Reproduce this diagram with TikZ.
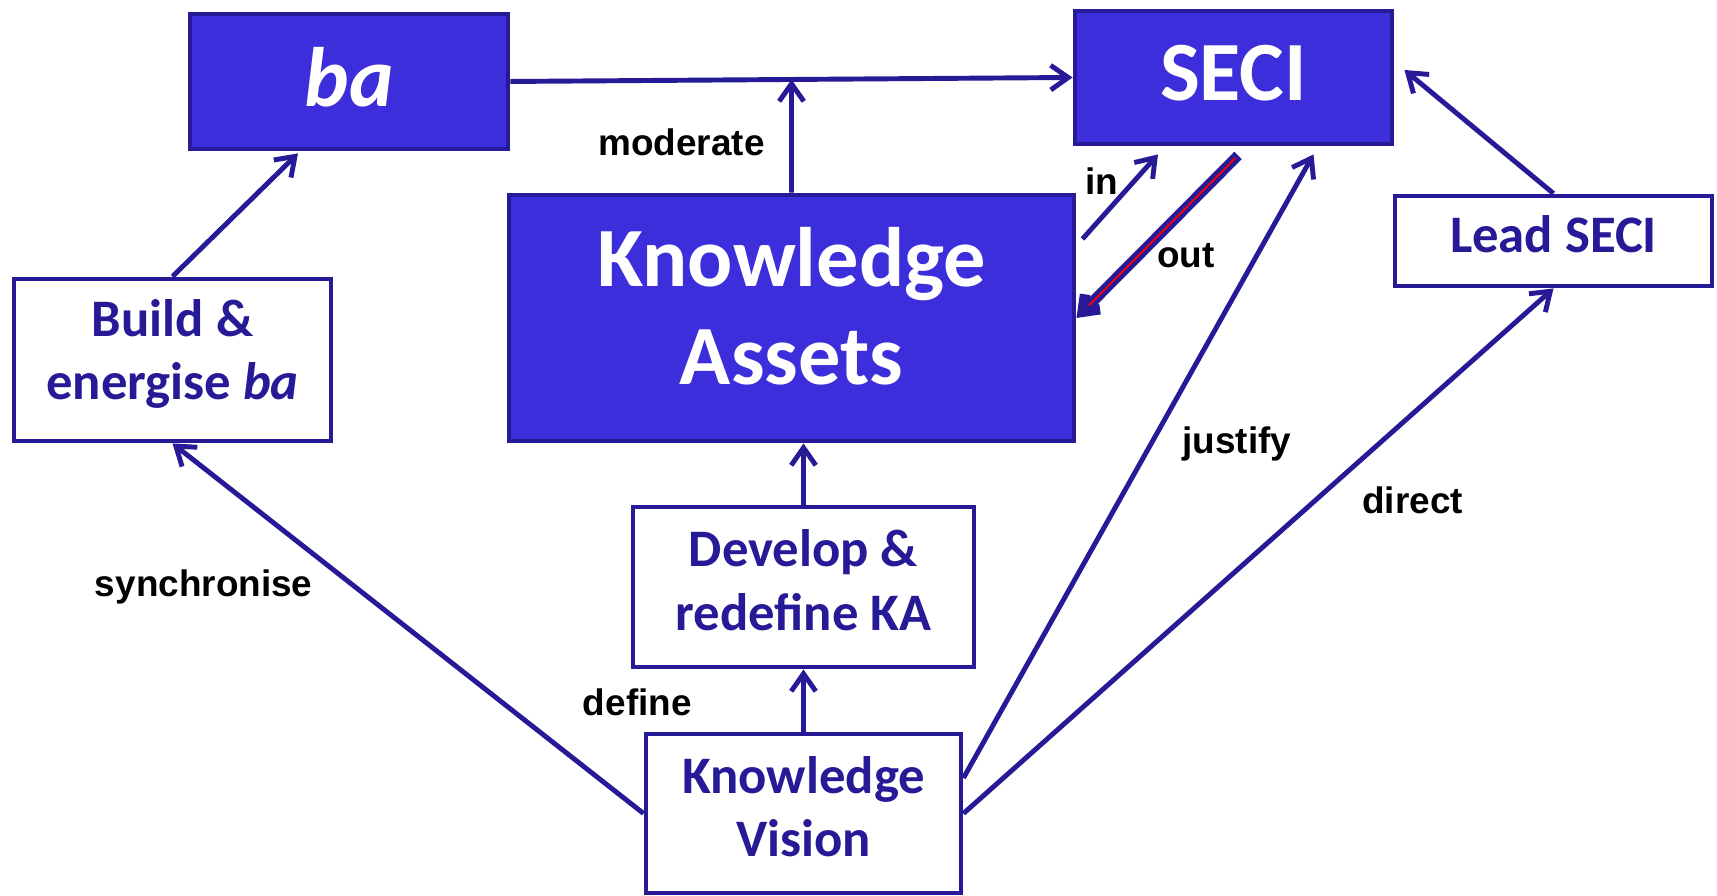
\documentclass[tikz,border=0pt]{standalone}
\usepackage{fontspec}
\setmainfont{Carlito}
\newfontfamily\labelfont{Liberation Sans}
\usepackage{xcolor}
\usetikzlibrary{arrows.meta, calc}
\definecolor{kablue}{RGB}{60,46,218}
\definecolor{kadark}{RGB}{38,26,150}
\tikzstyle{filledbox} = [rectangle, draw=kadark, fill=kablue, line width=1.4pt, text=white, font=\fontsize{24}{28}\selectfont\bfseries, align=center, inner sep=0pt, text depth=2.5pt]
\tikzstyle{plainbox} = [rectangle, draw=kadark, fill=white, line width=1.4pt, text=kadark, font=\fontsize{15}{18}\selectfont\bfseries, align=center, inner sep=0pt, text depth=4pt]
\tikzstyle{lbl} = [font=\labelfont\fontsize{10.5}{12}\selectfont\bfseries, text=black, inner sep=0pt, text depth=0pt]
\tikzstyle{arrow} = [line width=1.4pt, draw=kadark, -{Straight Barb[length=5pt,width=7pt]}]
\tikzstyle{outarrow} = [line width=3pt, draw=kadark, -{Straight Barb[length=4pt,width=6pt]}]

\begin{document}
\begin{tikzpicture}
		\useasboundingbox (0,0) rectangle (17.17,8.96);
		%top row
		\node[filledbox, minimum width=3.18cm, minimum height=1.35cm] (ba) at (3.49,8.145) {\textit{ba}};
		\node[filledbox, minimum width=3.17cm, minimum height=1.33cm] (seci) at (12.335,8.185) {SECI};
		
		%centre
		\node[filledbox, minimum width=5.65cm, minimum height=2.46cm, text depth=7pt] (ka) at (7.915,5.78) {Knowledge\\Assets};
		
		%white boxes
		\node[plainbox, minimum width=3.17cm, minimum height=1.62cm, text depth=6pt] (build) at (1.725,5.36) {Build \&\\energise \textit{ba}};
		\node[plainbox, minimum width=3.17cm, minimum height=0.90cm] (lead) at (15.535,6.55) {Lead SECI};
		\node[plainbox, minimum width=3.41cm, minimum height=1.60cm] (develop) at (8.035,3.09) {Develop \&\\redefine KA};
		\node[plainbox, minimum width=3.15cm, minimum height=1.59cm] (vision) at (8.035,0.825) {Knowledge\\Vision};

		%free ends
		\coordinate (mod_e) at ($(ba.east)!0.5!(seci.west)$);
		\coordinate (in_s) at ($(ka.east)+(0.06,0.79)$);
		\coordinate (in_e) at ($(seci.south)+(-0.755,-0.08)$);
		\coordinate (out_s) at ($(seci.south)+(0.045,-0.09)$);
		\coordinate (just_e) at ($(seci.south)+(0.8,-0.08)$);
		\coordinate (lead_e) at ($(seci.east)+(0.1,0.075)$);
		\coordinate (ba_e) at ($(ba.south)+(-0.51,-0.02)$);
		
		%connections
		\draw[arrow] (ba.east) -- (seci.west);
		\draw[arrow] (ka.north) -- (mod_e);
		\draw[arrow] (in_s) -- (in_e);
		\draw[outarrow] (out_s) -- (ka.east);
		\draw[red, line width=0.5pt, shorten >=5pt, shorten <=1pt] (out_s) -- (ka.east);
		\draw[arrow] (lead.north) -- (lead_e);
		\draw[arrow] ([yshift=0.355cm]vision.east) -- (just_e);
		\draw[arrow] (vision.east) -- (lead.south);
		\draw[arrow] (vision.west) -- (build.south);
		\draw[arrow] (build.north) -- (ba_e);
		\draw[arrow] (vision.north) -- (develop.south);
		\draw[arrow] (develop.north) -- (develop.north |- ka.south);
		
		%labels
		\node[lbl] (l_mod) at (6.816,7.537) {moderate};
		\node[lbl] (l_in) at (11.015,7.153) {in};
		\node[lbl] (l_out) at (11.86,6.41) {out};
		\node[lbl] (l_just) at (12.37,4.56) {justify};
		\node[lbl] (l_dir) at (14.126,3.956) {direct};
		\node[lbl] (l_sync) at (2.037,3.124) {synchronise};
		\node[lbl] (l_def) at (6.373,1.941) {define};
		
	\end{tikzpicture}
\end{document}
